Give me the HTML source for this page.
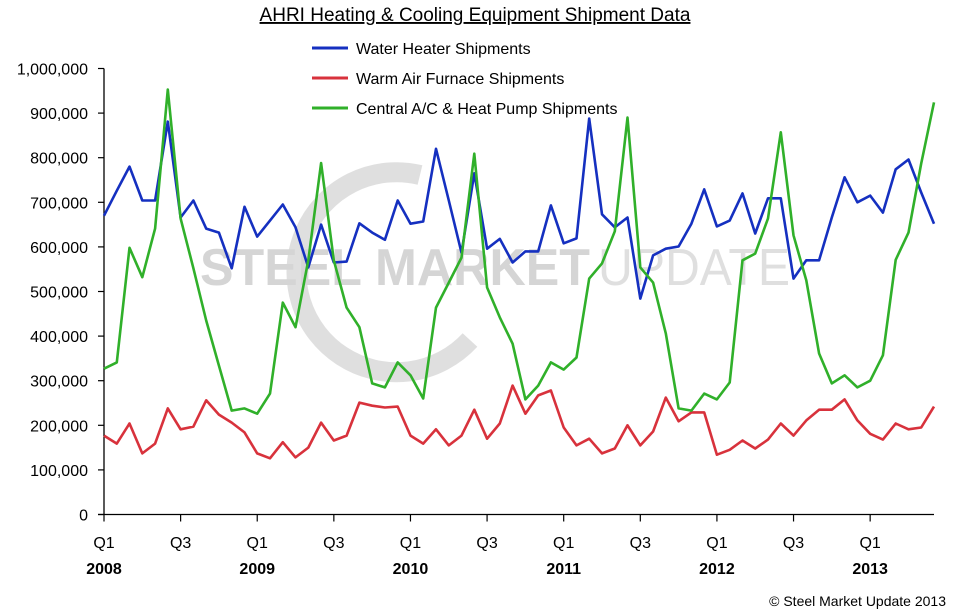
<!DOCTYPE html>
<html><head><meta charset="utf-8"><style>
html,body{margin:0;padding:0;background:#fff;}
svg{display:block;font-family:"Liberation Sans",sans-serif;}
</style></head><body>
<svg id="chart" width="954" height="611" viewBox="0 0 954 611">
<g opacity="0.3">
<path d="M 420 175 A 100 100 0 1 0 470 340" fill="none" stroke="#999" stroke-width="20"/>
<text x="200" y="285" font-size="52" font-weight="bold" fill="#777" textLength="390" lengthAdjust="spacingAndGlyphs">STEEL MARKET</text>
<text x="598" y="285" font-size="52" fill="#999" textLength="192" lengthAdjust="spacingAndGlyphs">UPDATE</text>
</g>
<text x="475" y="21" font-size="19" text-anchor="middle" text-decoration="underline" fill="#000">AHRI Heating &amp; Cooling Equipment Shipment Data</text>
<g id="axes"></g>
<g id="series"></g>
<g>
<line x1="312" y1="48" x2="348" y2="48" stroke="#1530c0" stroke-width="3"/>
<text x="356" y="54" font-size="16">Water Heater Shipments</text>
<line x1="312" y1="78" x2="348" y2="78" stroke="#d8323c" stroke-width="3"/>
<text x="356" y="84" font-size="16">Warm Air Furnace Shipments</text>
<line x1="312" y1="108" x2="348" y2="108" stroke="#30b02a" stroke-width="3"/>
<text x="356" y="114" font-size="16">Central A/C &amp; Heat Pump Shipments</text>
</g>
<text x="946" y="606" font-size="14" text-anchor="end">©   Steel Market Update 2013</text>
</svg>
<script>
const waterHeater = [670,726,780,704,704,881,666,704,641,632,552,690,623,659,695,644,554,650,565,567,653,632,616,704,652,657,820,704,587,765,596,618,565,590,590,693,608,619,888,673,644,666,484,581,596,601,652,729,646,659,720,630,709,709,529,570,570,666,756,700,715,677,774,796,722,652];
const furnace = [177,159,204,137,159,238,191,197,256,224,206,184,137,126,162,128,150,206,166,177,251,244,240,242,177,159,191,155,177,235,170,204,289,226,267,278,195,155,170,137,148,200,155,186,262,209,229,229,134,145,166,148,168,204,177,211,235,235,258,211,181,168,204,191,195,242];
const centralAC = [327,341,598,532,641,953,664,552,435,334,233,238,226,271,475,420,570,788,570,464,420,294,285,341,312,260,464,520,576,809,509,442,383,258,289,341,325,352,529,563,635,890,554,520,406,238,233,271,258,296,570,585,664,857,626,525,361,294,312,285,300,357,571,632,787,924];
const yTicks = [0,100000,200000,300000,400000,500000,600000,700000,800000,900000,1000000];
const yTickLabels = ["0","100,000","200,000","300,000","400,000","500,000","600,000","700,000","800,000","900,000","1,000,000"];
const quarterLabels = ["Q1","Q3","Q1","Q3","Q1","Q3","Q1","Q3","Q1","Q3","Q1"];
const yearLabels = ["2008","","2009","","2010","","2011","","2012","","2013"];

const NS="http://www.w3.org/2000/svg";
const X0=104, X1=934, Y0=514.5, Y1=68.5, N=waterHeater.length;
const xs = i => X0 + (X1-X0)*i/(N-1);
const ys = v => Y0 - (Y0-Y1)*v/1000000;
function mk(tag, attrs, parent){const e=document.createElementNS(NS,tag);for(const k in attrs)e.setAttribute(k,attrs[k]);parent.appendChild(e);return e;}
const axes=document.getElementById('axes');
const yAxis=mk('line',{x1:X0,y1:Y1,x2:X0,y2:Y0,stroke:'#000','stroke-width':1.3},axes);


const xAxis=mk('line',{x1:X0-6,y1:Y0,x2:X1,y2:Y0,stroke:'#000','stroke-width':1.3},axes);


yTicks.forEach((v,i)=>{
  const y=ys(v);
  const t=mk('line',{x1:X0-6,y1:y,x2:X0,y2:y,stroke:'#000','stroke-width':1.2},axes);
  
  
  const l=mk('text',{x:88,y:y+6,'font-size':16,'text-anchor':'end'},axes);
  l.textContent=yTickLabels[i];
  
  
});
quarterLabels.forEach((q,k)=>{
  const x=xs(k*6);
  const t=mk('line',{x1:x,y1:Y0,x2:x,y2:Y0+7,stroke:'#000','stroke-width':1.2},axes);
  
  
  const l=mk('text',{x:x,y:548,'font-size':16,'text-anchor':'middle'},axes);
  l.textContent=q;
  
  
  if(yearLabels[k]){
    const yl=mk('text',{x:x,y:574,'font-size':16,'font-weight':'bold','text-anchor':'middle'},axes);
    yl.textContent=yearLabels[k];
    
    
  }
});
const series=document.getElementById('series');
function drawLine(vals,color,name){
  const d=vals.map((v,i)=>(i?'L':'M')+xs(i).toFixed(1)+' '+ys(v*1000).toFixed(1)).join(' ');
  const p=mk('path',{d:d,fill:'none',stroke:color,'stroke-width':2.6,'stroke-linejoin':'round'},series);
  
  
}
drawLine(waterHeater,'#1530c0','water-heater-line');
drawLine(furnace,'#d8323c','furnace-line');
drawLine(centralAC,'#30b02a','central-ac-line');
</script>
</body></html>
